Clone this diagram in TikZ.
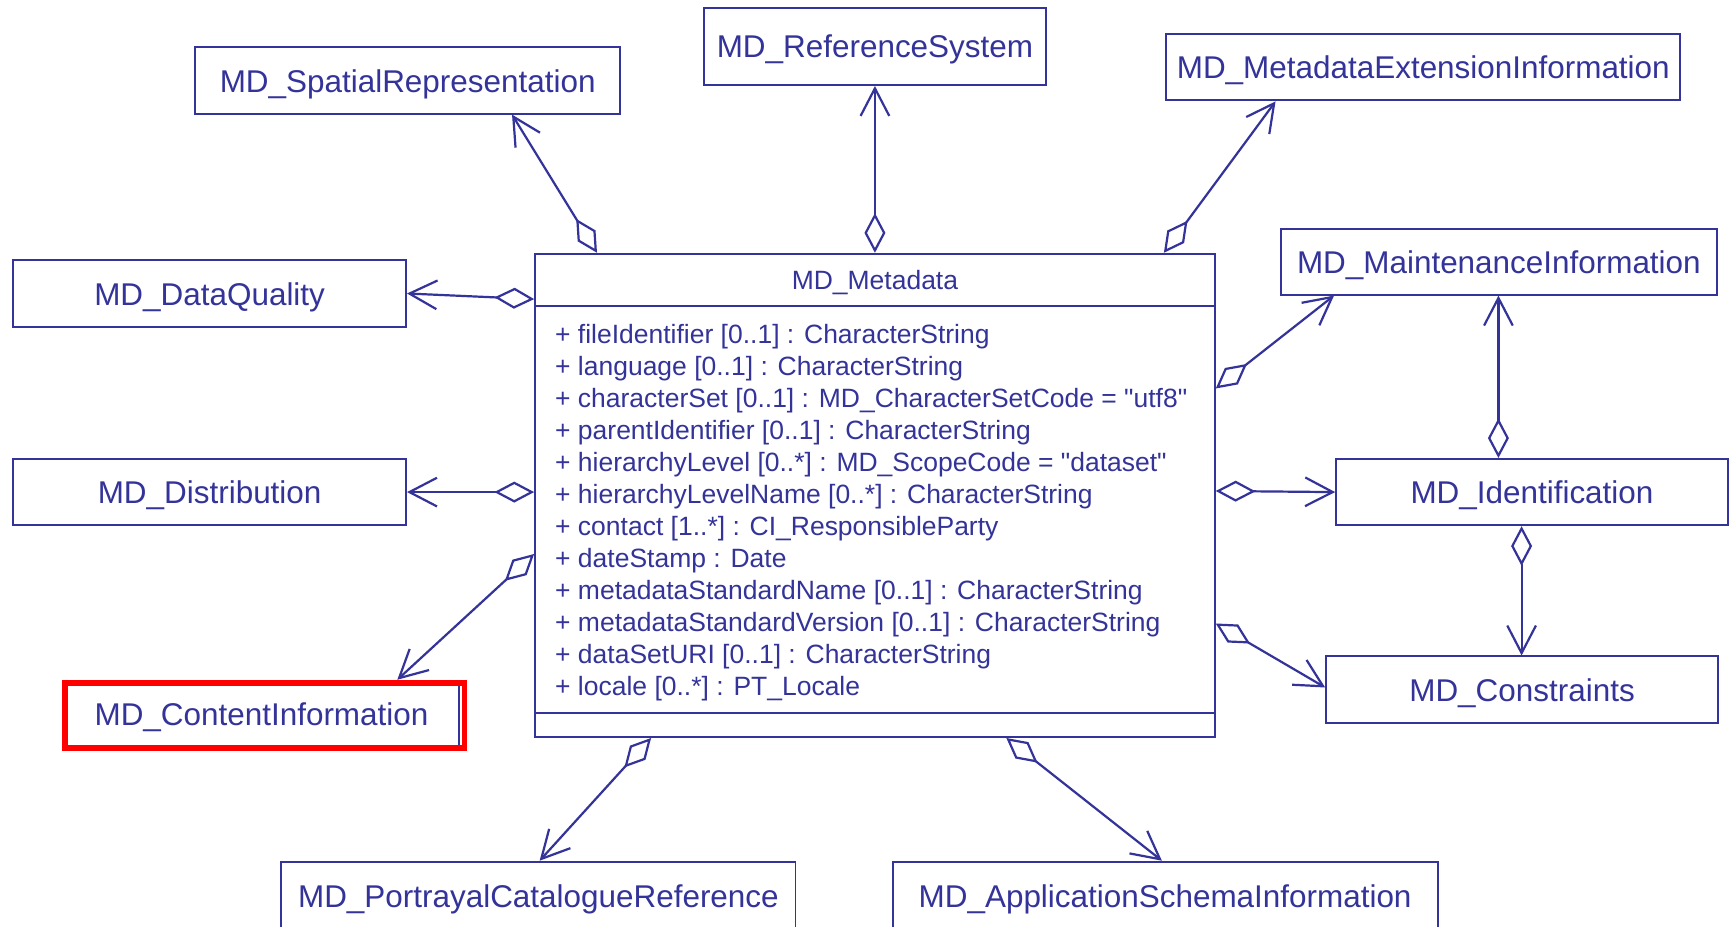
\documentclass[tikz,border=0pt]{standalone}
\usepackage{fontspec}
\setmainfont{Liberation Sans}[Ligatures=TeXOff]
\usetikzlibrary{arrows.meta}
\definecolor{umlblue}{RGB}{51,51,153}
\definecolor{hilite}{RGB}{255,0,0}

\begin{document}
\begin{tikzpicture}[x=1pt,y=-1pt,
  cls/.style={draw=umlblue, line width=1.8pt, text=umlblue, inner sep=0pt,
              text height=21pt, text depth=0pt,
              font=\fontsize{28.5}{34}\selectfont},
  agg/.style={draw=umlblue, line width=2pt,
              {Diamond[open,length=36pt,width=19pt,line width=2pt]}-{Straight Barb[length=25pt,width=26pt,line width=2pt]}},
  attr/.style={text=umlblue, inner sep=0pt, anchor=base west,
               font=\fontsize{24}{29}\selectfont},
  ttlstyle/.style={text=umlblue, inner sep=0pt, text height=17pt, text depth=0pt,
                   font=\fontsize{24}{29}\selectfont}]

\useasboundingbox (0,0) rectangle (1568,840);
\fill[white] (0,0) rectangle (1568,840);

% central class
\node[cls, minimum width=616pt, minimum height=438pt] (meta) at (793,449) {};
\node[ttlstyle] (ttl) at (793,254) {MD\_Metadata};
\draw[umlblue, line width=1.8pt] ([yshift=-48pt]meta.north west) -- ([yshift=-48pt]meta.north east);
\draw[umlblue, line width=1.8pt] ([yshift=23pt]meta.south west) -- ([yshift=23pt]meta.south east);

\node[attr] (a1)  at (503,311) {+ fileIdentifier [0..1] : CharacterString};
\node[attr] (a2)  at (503,340) {+ language [0..1] : CharacterString};
\node[attr] (a3)  at (503,369) {+ characterSet [0..1] : MD\_CharacterSetCode = "utf8"};
\node[attr] (a4)  at (503,398) {+ parentIdentifier [0..1] : CharacterString};
\node[attr] (a5)  at (503,427) {+ hierarchyLevel [0..*] : MD\_ScopeCode = "dataset"};
\node[attr] (a6)  at (503,456) {+ hierarchyLevelName [0..*] : CharacterString};
\node[attr] (a7)  at (503,485) {+ contact [1..*] : CI\_ResponsibleParty};
\node[attr] (a8)  at (503,514) {+ dateStamp : Date};
\node[attr] (a9)  at (503,543) {+ metadataStandardName [0..1] : CharacterString};
\node[attr] (a10) at (503,572) {+ metadataStandardVersion [0..1] : CharacterString};
\node[attr] (a11) at (503,601) {+ dataSetURI [0..1] : CharacterString};
\node[attr] (a12) at (503,630) {+ locale [0..*] : PT\_Locale};

% surrounding classes
\node[cls, minimum width=385pt, minimum height=60pt] (sp)   at (369.5,73)   {MD\_SpatialRepresentation};
\node[cls, minimum width=310pt, minimum height=70pt] (rs)   at (793,42)     {MD\_ReferenceSystem};
\node[cls, minimum width=466pt, minimum height=60pt] (mx)   at (1290,61)    {MD\_MetadataExtensionInformation};
\node[cls, minimum width=356pt, minimum height=60pt] (dq)   at (190,266)    {MD\_DataQuality};
\node[cls, minimum width=395pt, minimum height=59pt] (mi)   at (1358.5,237.5) {MD\_MaintenanceInformation};
\node[cls, minimum width=356pt, minimum height=60pt] (dist) at (190,446)    {MD\_Distribution};
\node[cls, minimum width=355pt, minimum height=60pt] (id)   at (1388.5,446) {MD\_Identification};
\node[cls, minimum width=358pt, minimum height=60pt] (ci)   at (237,647)    {MD\_ContentInformation};
\node[cls, minimum width=355pt, minimum height=60pt] (co)   at (1379.5,625) {MD\_Constraints};
\node[cls, minimum width=466pt, minimum height=62pt] (pc)   at (488,812)    {MD\_PortrayalCatalogueReference};
\node[cls, minimum width=494pt, minimum height=62pt] (as)   at (1056,812)   {MD\_ApplicationSchemaInformation};

% highlight frame
\draw[hilite, line width=5pt] ([xshift=2pt,yshift=-3pt]ci.north west) rectangle ([xshift=4pt,yshift=0pt]ci.south east);

% aggregations
\draw[agg] ([xshift=57pt]meta.north west) -- ([xshift=288pt]sp.south west);
\draw[agg] (meta.north) -- (rs.south);
\draw[agg] ([xshift=-47pt]meta.north east) -- ([xshift=100pt]mx.south west);
\draw[agg] ([yshift=-42pt]meta.north west) -- (dq.east);
\draw[agg] ([yshift=3pt]meta.west) -- (dist.east);
\draw[agg] ([yshift=-273pt]meta.north west) -- ([xshift=303pt]ci.north west);
\draw[agg] ([xshift=106pt]meta.south west) -- ([xshift=235pt]pc.north west);
\draw[agg] ([xshift=428pt]meta.south west) -- ([xshift=245pt]as.north west);
\draw[agg] ([yshift=-336pt]meta.north east) -- ([yshift=-29pt]co.north west);
\draw[agg] ([yshift=4pt]meta.east) -- (id.west);
\draw[agg] ([yshift=-123pt]meta.north east) -- ([xshift=49pt]mi.south west);
\draw[agg] ([xshift=148pt]id.north west) -- ([xshift=198pt]mi.south west);
\draw[agg] ([xshift=169pt]id.south west) -- ([xshift=178pt]co.north west);

\end{tikzpicture}
\end{document}
